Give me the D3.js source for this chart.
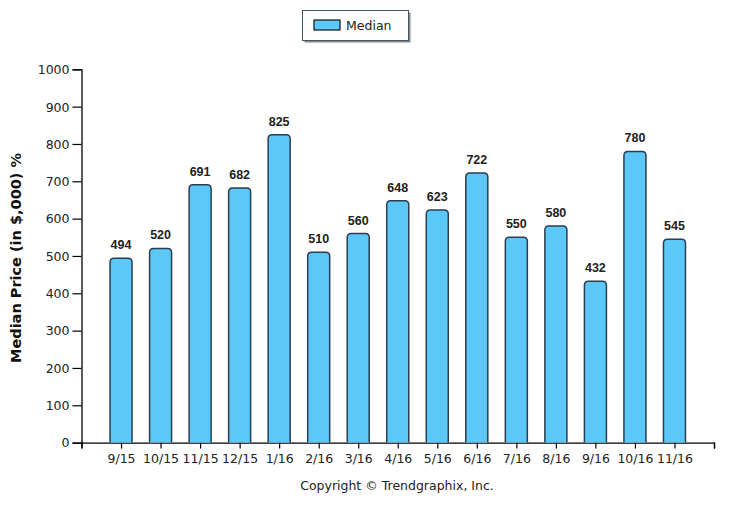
<!DOCTYPE html>
<html><head><meta charset="utf-8">
<script src="https://cdn.jsdelivr.net/npm/d3@7"></script>
<style>
body{margin:0;background:#fff;}
text{font-family:Tahoma,"DejaVu Sans",sans-serif;}
</style></head>
<body>
<svg id="c" width="732" height="505"></svg>
<script>
const categories = ["9/15","10/15","11/15","12/15","1/16","2/16","3/16","4/16","5/16","6/16","7/16","8/16","9/16","10/16","11/16"];
const medianValues = [494,520,691,682,825,510,560,648,623,722,550,580,432,780,545];
const yTicks = [0,100,200,300,400,500,600,700,800,900,1000];
const seriesName = "Median";

const svg = d3.select("#c");
const x0 = 81.5, x1 = 714, yTop = 69.3, yBot = 442.6;
const x = d3.scaleLinear().domain([0, categories.length + 1]).range([x0, x1]);
const y = d3.scaleLinear().domain([0, 1000]).range([yBot, yTop]);
const barW = 22;

// y axis
const yAxis = d3.axisLeft(y).tickValues(yTicks).tickSize(9).tickPadding(3).tickFormat(d3.format("d"));
const gy = svg.append("g").attr("transform", `translate(${x0},0)`).call(yAxis);
gy.select(".domain").attr("stroke", "#000").attr("stroke-width", 1.3);
gy.selectAll(".tick line").attr("stroke", "#000").attr("stroke-width", 1.2);
gy.selectAll(".tick text").attr("font-size", 12.5).attr("fill", "#222").attr("dy", "0.35em");

// x axis
const tickPos = d3.range(0, categories.length + 2);
const xAxis = d3.axisBottom(x).tickValues(tickPos).tickSize(6).tickPadding(6)
  .tickFormat(i => (i >= 1 && i <= categories.length) ? categories[i - 1] : "");
const gx = svg.append("g").attr("transform", `translate(0,${yBot})`).call(xAxis);
gx.select(".domain").attr("stroke", "#000").attr("stroke-width", 1.3);
gx.selectAll(".tick line").attr("stroke", "#000").attr("stroke-width", 1.2);
gx.selectAll(".tick text").attr("font-size", 12.5).attr("fill", "#222");

// bars with rounded top corners
function barPath(cx, top, bottom, w, r) {
  const l = cx - w / 2, rr = cx + w / 2;
  return `M${l},${bottom} L${l},${top + r} Q${l},${top} ${l + r},${top} L${rr - r},${top} Q${rr},${top} ${rr},${top + r} L${rr},${bottom}`;
}
svg.append("g").selectAll("path").data(medianValues).join("path")
  .attr("d", (d, i) => barPath(x(i + 1), y(d), yBot, barW, 4))
  .attr("fill", "#5cc8f8").attr("stroke", "#2b3d4f").attr("stroke-width", 1.5);

svg.append("g").selectAll("text").data(medianValues).join("text")
  .attr("x", (d, i) => x(i + 1)).attr("y", d => y(d) - 9)
  .attr("text-anchor", "middle").attr("font-size", 12.5).attr("font-weight", "bold").attr("fill", "#222")
  .style("font-family", "'Liberation Sans', Arial, sans-serif")
  .text(d => d);

// y label
svg.append("text").attr("transform", "translate(21,258) rotate(-90)")
  .attr("text-anchor", "middle").attr("font-size", 14.5).attr("font-weight", "bold").attr("fill", "#111")
  .text("Median Price (in $,000) %");

// copyright
svg.append("text").attr("x", 397).attr("y", 490).attr("text-anchor", "middle")
  .attr("font-size", 12.5).attr("fill", "#222").text("Copyright © Trendgraphix, Inc.");

// legend
const lg = svg.append("g");
lg.append("rect").attr("x", 304.5).attr("y", 12.5).attr("width", 106).attr("height", 30).attr("fill", "#888");
lg.append("rect").attr("x", 302.5).attr("y", 10.5).attr("width", 106).attr("height", 30).attr("fill", "#fff").attr("stroke", "#445566").attr("stroke-width", 1);
lg.append("rect").attr("x", 314).attr("y", 20).attr("width", 26).attr("height", 10).attr("fill", "#5cc8f8").attr("stroke", "#111").attr("stroke-width", 1.2);
lg.append("text").attr("x", 346).attr("y", 29.5).attr("font-size", 12.5).attr("fill", "#222").text(seriesName);
</script>
</body></html>
